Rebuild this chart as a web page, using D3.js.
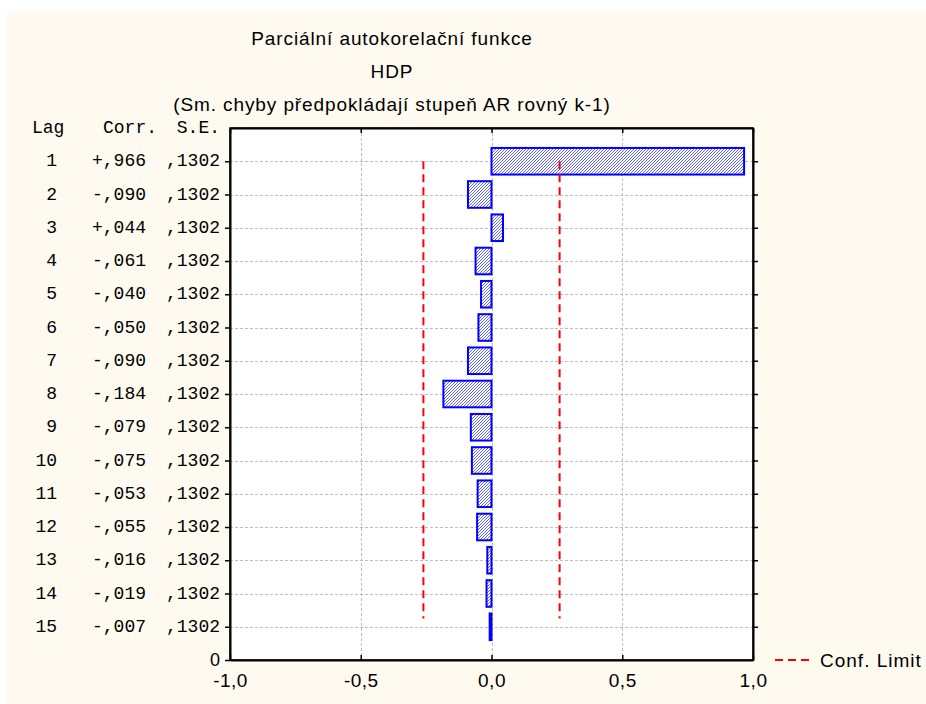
<!DOCTYPE html>
<meta charset="utf-8">
<style>
  body { margin: 0; background: #fff; }
  svg { display: block; }
  .sans { font-family: "Liberation Sans", Arial, sans-serif; }
  .mono { font-family: "Liberation Mono", "Courier New", monospace; }
</style>
<svg width="926" height="704"></svg>
<script src="https://cdn.jsdelivr.net/npm/d3@7"></script>
<script>
// data
var lags = [1, 2, 3, 4, 5, 6, 7, 8, 9, 10, 11, 12, 13, 14, 15];
var corr = [0.966, -0.090, 0.044, -0.061, -0.040, -0.050, -0.090, -0.184, -0.079, -0.075, -0.053, -0.055, -0.016, -0.019, -0.007];
var se = [0.1302, 0.1302, 0.1302, 0.1302, 0.1302, 0.1302, 0.1302, 0.1302, 0.1302, 0.1302, 0.1302, 0.1302, 0.1302, 0.1302, 0.1302];
var xTicks = [-1, -0.5, 0, 0.5, 1];
var titles = ["Parciální autokorelační funkce", "HDP", "(Sm. chyby předpokládají stupeň AR rovný k-1)"];

var svg = d3.select("svg");

// cream panel
svg.append("rect").attr("x", 7).attr("y", 11).attr("width", 919).attr("height", 693).attr("fill", "#fffaef");

var pLeft = 230, pRight = 753, pTop = 128, pBottom = 660;
var x = d3.scaleLinear().domain([-1, 1]).range([pLeft, pRight]);
// lag 1 at the top, the bottom edge is labelled "0"
var y = d3.scaleLinear().domain([0, 16]).range([pTop, pBottom]);
var band = y(1) - y(0);

// hatch pattern
var defs = svg.append("defs");
var pat = defs.append("pattern").attr("id", "hatch").attr("patternUnits", "userSpaceOnUse")
  .attr("width", 3).attr("height", 3);
pat.append("rect").attr("width", 3).attr("height", 3).attr("fill", "#ffffff");
pat.append("path").attr("d", "M-1,1 l2,-2 M0,3 l3,-3 M2,4 l2,-2")
  .attr("stroke", "#6464ee").attr("stroke-width", 1);

// plot background
svg.append("rect").attr("x", pLeft).attr("y", pTop).attr("width", pRight - pLeft).attr("height", pBottom - pTop).attr("fill", "#fff");

// grid
var grid = svg.append("g").attr("stroke", "#bdbdbd").attr("stroke-width", 1).attr("stroke-dasharray", "3,2");
grid.selectAll("line.h").data(lags).enter().append("line")
  .attr("x1", pLeft).attr("x2", pRight)
  .attr("y1", function(d) { return Math.round(y(d)) + 0.5; })
  .attr("y2", function(d) { return Math.round(y(d)) + 0.5; });
grid.selectAll("line.v").data([-0.5, 0, 0.5]).enter().append("line")
  .attr("y1", pTop).attr("y2", pBottom)
  .attr("x1", function(d) { return Math.round(x(d)) + 0.5; })
  .attr("x2", function(d) { return Math.round(x(d)) + 0.5; });

// bars
svg.append("g").selectAll("rect").data(lags).enter().append("rect")
  .attr("x", function(d, i) { return x(Math.min(0, corr[i])); })
  .attr("width", function(d, i) { return Math.abs(x(corr[i]) - x(0)); })
  .attr("y", function(d) { return y(d) - band * 0.4; })
  .attr("height", band * 0.8)
  .attr("fill", "url(#hatch)")
  .attr("stroke", "#0000ff").attr("stroke-width", 2);

// confidence limits
var conf = svg.append("g").attr("stroke", "#ff0000").attr("stroke-width", 2).attr("stroke-dasharray", "8,5");
conf.selectAll("line").data([-2 * se[0], 2 * se[0]]).enter().append("line")
  .attr("x1", function(d) { return x(d); }).attr("x2", function(d) { return x(d); })
  .attr("y1", y(1)).attr("y2", y(14.75));

// frame & axes
function fmt(v) { return d3.format(".1f")(v).replace("−", "-").replace(".", ","); }

svg.append("rect").attr("x", pLeft).attr("y", pTop).attr("width", pRight - pLeft).attr("height", pBottom - pTop)
  .attr("fill", "none").attr("stroke", "#000").attr("stroke-width", 1.5);

var ax = svg.append("g");
ax.append("g").attr("transform", "translate(" + pLeft + ",0)")
  .call(d3.axisLeft(y).tickValues(d3.range(1, 17)).tickSize(5).tickSizeOuter(0).tickFormat(""));
ax.append("g").attr("transform", "translate(" + pRight + ",0)")
  .call(d3.axisLeft(y).tickValues(lags).tickSize(-5).tickSizeOuter(0).tickFormat(""));
ax.append("g").attr("transform", "translate(0," + pTop + ")")
  .call(d3.axisTop(x).tickValues(xTicks).tickSize(-5).tickSizeOuter(0).tickFormat(""));
var bx = ax.append("g").attr("transform", "translate(0," + pBottom + ")")
  .call(d3.axisBottom(x).tickValues(xTicks).tickSize(-5).tickSizeOuter(0).tickPadding(14).tickFormat(fmt));
ax.selectAll(".domain").attr("stroke-width", 2);
ax.selectAll(".tick line").attr("stroke-width", 1.5);
bx.selectAll("text").attr("class", "sans").attr("font-size", 19).attr("letter-spacing", 0.5).attr("fill", "#000");

// table on the left
var tbl = svg.append("g").attr("class", "mono").attr("font-size", 18).attr("fill", "#000");
tbl.append("text").attr("x", 32).attr("y", y(0) + 5).text("Lag");
tbl.append("text").attr("x", 103).attr("y", y(0) + 5).text("Corr.");
tbl.append("text").attr("x", 220).attr("y", y(0) + 5).attr("text-anchor", "end").text("S.E.");
var rows = tbl.selectAll("g.row").data(lags).enter().append("g");
rows.append("text").attr("x", 57).attr("text-anchor", "end")
  .attr("y", function(d) { return y(d) + 5; }).text(function(d) { return d; });
rows.append("text").attr("x", 92)
  .attr("y", function(d) { return y(d) + 5; })
  .text(function(d, i) { return (corr[i] < 0 ? "-" : "+") + "," + d3.format("03d")(Math.round(Math.abs(corr[i]) * 1000)); });
rows.append("text").attr("x", 220).attr("text-anchor", "end")
  .attr("y", function(d) { return y(d) + 5; })
  .text(function(d, i) { return "," + d3.format("04d")(Math.round(se[i] * 10000)); });
tbl.append("text").attr("x", 220).attr("text-anchor", "end").attr("class", "sans").attr("font-size", 18)
  .attr("y", y(16) + 6).text("0");

// titles
svg.append("g").attr("class", "sans").attr("font-size", 19).attr("letter-spacing", 0.9).attr("text-anchor", "middle")
  .selectAll("text").data(titles).enter().append("text")
  .attr("x", 392).attr("y", function(d, i) { return 45 + i * 33; })
  .text(function(d) { return d; });

// legend
svg.append("line").attr("x1", 775).attr("x2", 810).attr("y1", 660).attr("y2", 660)
  .attr("stroke", "#ff0000").attr("stroke-width", 2).attr("stroke-dasharray", "8,5");
svg.append("text").attr("class", "sans").attr("font-size", 19).attr("letter-spacing", 1).attr("x", 820).attr("y", 667).text("Conf. Limit");
</script>
